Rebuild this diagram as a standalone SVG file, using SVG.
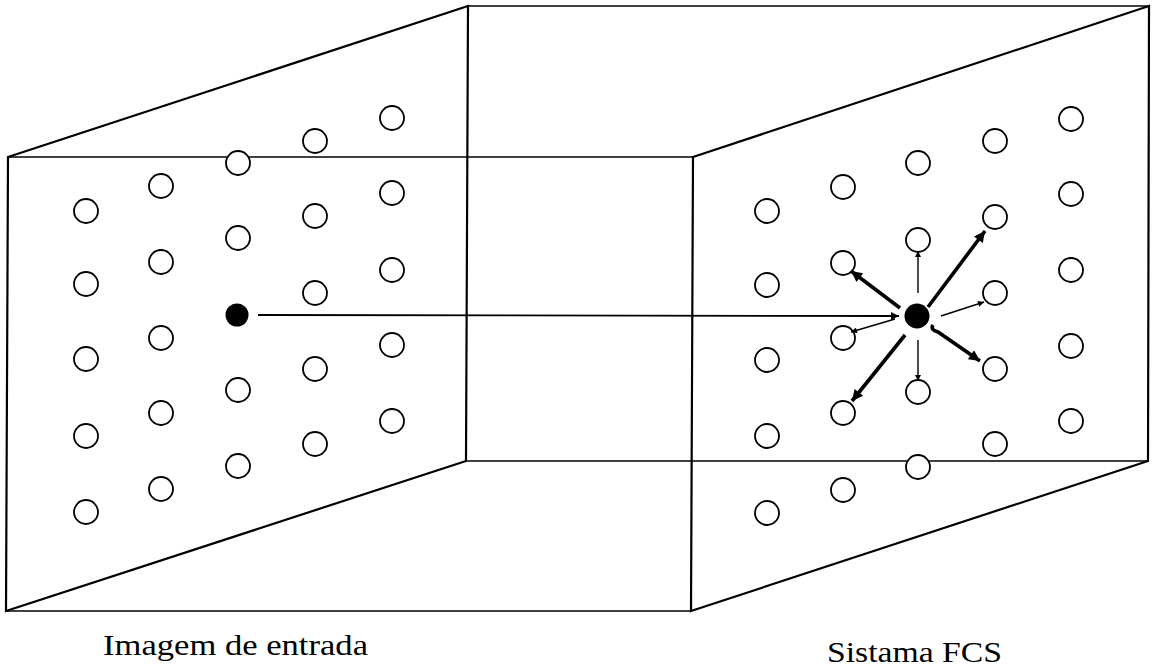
<svg xmlns="http://www.w3.org/2000/svg" width="1155" height="669" viewBox="0 0 1155 669">
<style>
.plane{fill:none;stroke:#000;stroke-width:2.2;stroke-linejoin:miter}
.edge{fill:none;stroke:#000;stroke-width:1.6}
.c{fill:#fff;stroke:#000;stroke-width:1.8}
.dot{fill:#000}
.thin{stroke:#000;stroke-width:1.4;fill:none}
.thick{stroke:#000;stroke-width:3.6;fill:none}
.lbl{font-family:"Liberation Serif","DejaVu Serif",serif;font-size:30px;fill:#000}
</style>
<defs>
<marker id="ah" viewBox="0 0 10 10" refX="10" refY="5" markerWidth="13" markerHeight="8" markerUnits="userSpaceOnUse" orient="auto"><path d="M0,0 L10,5 L0,10 z" fill="#000"/></marker>
<marker id="ahs" viewBox="0 0 10 10" refX="10" refY="5" markerWidth="10" markerHeight="6" markerUnits="userSpaceOnUse" orient="auto"><path d="M0,0 L10,5 L0,10 z" fill="#000"/></marker>
<marker id="ahb" viewBox="0 0 10 10" refX="10" refY="5" markerWidth="17" markerHeight="11" markerUnits="userSpaceOnUse" orient="auto"><path d="M0,0 L10,5 L0,10 z" fill="#000"/></marker>
</defs>
<g id="box-edges">
<line class="edge" x1="8" y1="157" x2="693" y2="157"/>
<line class="edge" x1="467" y1="6" x2="1149" y2="6"/>
<line class="edge" x1="6" y1="611" x2="691" y2="611"/>
<line class="edge" x1="466" y1="461" x2="1148" y2="461"/>
</g>
<g id="input-plane">
<polygon class="plane" points="8,157 468,6 466,461 6,611"/>
<g>
<circle class="c" cx="86" cy="211" r="12"/><circle class="c" cx="86" cy="284" r="12"/><circle class="c" cx="86" cy="359" r="12"/><circle class="c" cx="86" cy="436" r="12"/><circle class="c" cx="86" cy="512" r="12"/>
<circle class="c" cx="161" cy="186" r="12"/><circle class="c" cx="161" cy="262" r="12"/><circle class="c" cx="161" cy="338" r="12"/><circle class="c" cx="161" cy="413" r="12"/><circle class="c" cx="161" cy="489" r="12"/>
<circle class="c" cx="238" cy="163" r="12"/><circle class="c" cx="238" cy="238" r="12"/><circle class="c" cx="238" cy="390" r="12"/><circle class="c" cx="238" cy="466" r="12"/>
<circle class="c" cx="315" cy="141" r="12"/><circle class="c" cx="315" cy="216" r="12"/><circle class="c" cx="315" cy="293" r="12"/><circle class="c" cx="315" cy="369" r="12"/><circle class="c" cx="315" cy="444" r="12"/>
<circle class="c" cx="392" cy="118" r="12"/><circle class="c" cx="392" cy="193" r="12"/><circle class="c" cx="392" cy="270" r="12"/><circle class="c" cx="392" cy="345" r="12"/><circle class="c" cx="392" cy="421" r="12"/>
<circle class="dot" cx="237" cy="315" r="11.5"/>
</g>
<text class="lbl" x="103" y="655" textLength="265" lengthAdjust="spacingAndGlyphs">Imagem de entrada</text>
</g>
<g id="fcs-plane">
<polygon class="plane" points="693,157 1149,6 1148,461 691,611"/>
<g>
<circle class="c" cx="767" cy="211" r="12"/><circle class="c" cx="767" cy="285" r="12"/><circle class="c" cx="767" cy="360" r="12"/><circle class="c" cx="767" cy="436" r="12"/><circle class="c" cx="767" cy="513" r="12"/>
<circle class="c" cx="843" cy="187" r="12"/><circle class="c" cx="843" cy="263" r="12"/><circle class="c" cx="843" cy="338" r="12"/><circle class="c" cx="843" cy="413" r="12"/><circle class="c" cx="843" cy="490" r="12"/>
<circle class="c" cx="918" cy="163" r="12"/><circle class="c" cx="918" cy="240" r="12"/><circle class="c" cx="918" cy="392" r="12"/><circle class="c" cx="918" cy="467" r="12"/>
<circle class="c" cx="995" cy="141" r="12"/><circle class="c" cx="995" cy="217" r="12"/><circle class="c" cx="995" cy="293" r="12"/><circle class="c" cx="995" cy="369" r="12"/><circle class="c" cx="995" cy="444" r="12"/>
<circle class="c" cx="1071" cy="119" r="12"/><circle class="c" cx="1071" cy="194" r="12"/><circle class="c" cx="1071" cy="270" r="12"/><circle class="c" cx="1071" cy="346" r="12"/><circle class="c" cx="1071" cy="421" r="12"/>
<circle class="dot" cx="917" cy="316" r="12.5"/>
</g>
<text class="lbl" x="827" y="662" textLength="175" lengthAdjust="spacingAndGlyphs">Sistama FCS</text>
</g>
<g id="connectors">
<line class="thin" x1="258" y1="315" x2="899" y2="316" style="stroke-width:1.8" marker-end="url(#ah)"/>
<line class="thin" x1="918" y1="293" x2="918" y2="251" marker-end="url(#ahs)"/>
<line class="thin" x1="918" y1="340" x2="918" y2="381" marker-end="url(#ahs)"/>
<line class="thin" x1="941" y1="316" x2="984" y2="302" marker-end="url(#ahs)"/>
<line class="thin" x1="895" y1="319" x2="851" y2="332" marker-end="url(#ahs)"/>
<line class="thick" x1="900" y1="308" x2="851" y2="271" marker-end="url(#ahb)"/>
<line class="thick" x1="928" y1="307" x2="985" y2="231" marker-end="url(#ahb)"/>
<line class="thick" x1="905" y1="335" x2="852" y2="401" marker-end="url(#ahb)"/>
<path class="thick" d="M933,325 Q930,330 938,332 L980,361" marker-end="url(#ahb)"/>
</g>
</svg>
